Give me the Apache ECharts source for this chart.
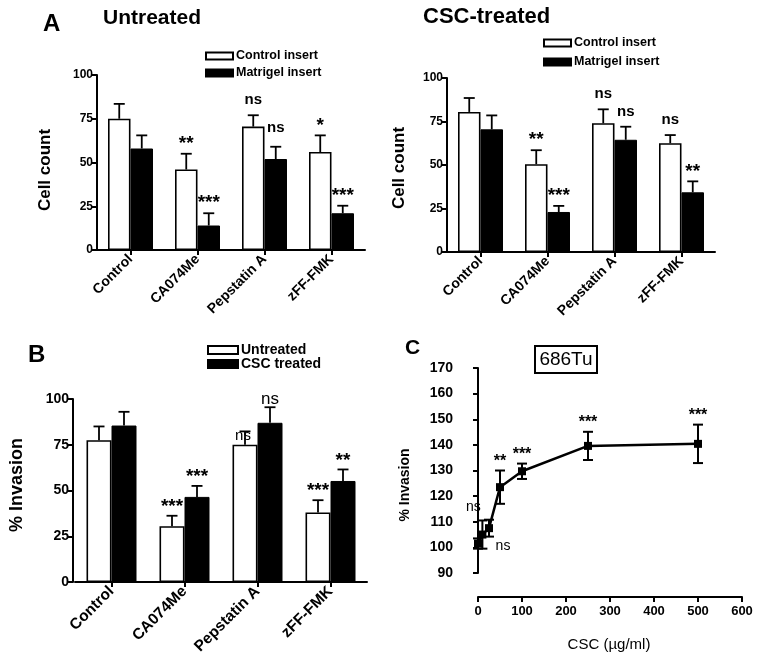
<!DOCTYPE html>
<html><head><meta charset="utf-8">
<script src="https://cdn.jsdelivr.net/npm/echarts@6/dist/echarts.min.js"></script>
<style>html,body{margin:0;padding:0;background:#fff}#c{width:762px;height:669px}</style>
</head><body><div id="c"></div>
<script>
// ---------- DATA ----------
const categories = ['Control', 'CA074Me', 'Pepstatin A', 'zFF-FMK'];
const countTicks = [0, 25, 50, 75, 100];
const invasionTicks = [0, 25, 50, 75, 100];
const cYTicks = [90, 100, 110, 120, 130, 140, 150, 160, 170];
const cXTicks = [0, 100, 200, 300, 400, 500, 600];

// A - Untreated
const untrControlInsert = [75, 46, 70.5, 56];
const untrControlInsertSem = [8.5, 9, 6.5, 9.5];
const untrControlInsertSig = ['', '**', 'ns', '*'];
const untrMatrigelInsert = [58, 14, 52, 21];
const untrMatrigelInsertSem = [7.5, 7, 7, 4.3];
const untrMatrigelInsertSig = ['', '***', 'ns', '***'];
// A - CSC-treated
const cscControlInsert = [80.5, 50.5, 74, 62.5];
const cscControlInsertSem = [8, 8, 8, 4.7];
const cscControlInsertSig = ['', '**', 'ns', 'ns'];
const cscMatrigelInsert = [70.5, 23, 64.5, 34.3];
const cscMatrigelInsertSem = [8, 3.5, 7.5, 6.3];
const cscMatrigelInsertSig = ['', '***', 'ns', '**'];
// B - % invasion
const bUntreated = [77.5, 30.5, 75, 38];
const bUntreatedSem = [7.5, 5.7, 7.3, 6.7];
const bUntreatedSig = ['', '***', 'ns', '***'];
const bCscTreated = [85.5, 46.5, 87, 55.2];
const bCscTreatedSem = [7.5, 6, 8.5, 6.3];
const bCscTreatedSig = ['', '***', 'ns', '**'];
// C - 686Tu dose response
const cDose = [0, 10, 25, 50, 100, 250, 500];
const cInvasion = [101.5, 105, 107.5, 123.5, 129.7, 139.6, 140.4];
const cInvasionSem = [2, 5.5, 3.3, 6.5, 3, 5.5, 7.5];
const cSig = ['', 'ns', 'ns', '**', '***', '***', '***'];

// ---------- LAYOUT / STYLE ----------
const F = '"Liberation Sans", Arial, Helvetica, sans-serif';
const K = '#000';

function yAxisCfg(gi, ticks, fs, offset) {
  return {
    type: 'value', gridIndex: gi, min: ticks[0], max: ticks[ticks.length - 1],
    interval: ticks[1] - ticks[0], offset: offset || 0,
    axisLine: { show: true, lineStyle: { color: K, width: 2 } },
    axisTick: { show: true, length: 5, lineStyle: { color: K, width: 2 } },
    splitLine: { show: false },
    axisLabel: { color: K, fontFamily: F, fontWeight: 'bold', fontSize: fs, margin: 4 }
  };
}
function catAxisCfg(gi, fs) {
  return {
    type: 'category', gridIndex: gi, data: categories,
    axisLine: { show: true, lineStyle: { color: K, width: 2 } },
    axisTick: { show: true, alignWithLabel: true, length: 5, lineStyle: { color: K, width: 2 } },
    axisLabel: { color: K, fontFamily: F, fontWeight: 'bold', fontSize: fs, rotate: 45, margin: 7, interval: 0 },
    splitLine: { show: false }
  };
}
function barSeries(gi, name, data, white, barW) {
  return {
    type: 'bar', name: name, xAxisIndex: gi, yAxisIndex: gi, data: data,
    barWidth: barW, barGap: '0%', z: 2,
    itemStyle: white ? { color: '#fff', borderColor: K, borderWidth: 1.6 } : { color: K, borderColor: K, borderWidth: 1 }
  };
}
function barErr(gi, vals, sems, sigs, side, barW, opt) {
  return {
    type: 'custom', xAxisIndex: gi, yAxisIndex: gi, z: 5, silent: true,
    data: vals.map((v, i) => [i, v, v + sems[i]]),
    renderItem: function (params, api) {
      const i = api.value(0), v = api.value(1), t = api.value(2);
      const b = api.coord([i, v]), tp = api.coord([i, t]);
      const x = b[0] + side * barW / 2;
      const ch = [
        { type: 'line', shape: { x1: x, y1: b[1], x2: x, y2: tp[1] }, style: { stroke: K, lineWidth: 1.8 } },
        { type: 'line', shape: { x1: x - 5.5, y1: tp[1], x2: x + 5.5, y2: tp[1] }, style: { stroke: K, lineWidth: 1.8 } }
      ];
      const s = sigs[params.dataIndex];
      if (s) {
        const star = s[0] === '*';
        const nd = (opt.nudge && opt.nudge[params.dataIndex]) || [0, 0];
        ch.push({
          type: 'text', x: x + nd[0], y: tp[1] - opt.gap + (star ? 5 : 0) + nd[1],
          style: { text: s, align: 'center', verticalAlign: 'middle', fill: K,
            font: star ? opt.starFont : opt.nsFont }
        });
      }
      return { type: 'group', children: ch };
    }
  };
}

const grids = [
  { left: 97, top: 75, width: 268, height: 175 },
  { left: 447, top: 78, width: 268, height: 174 },
  { left: 75, top: 399, width: 292, height: 183 },
  { left: 478, top: 368, width: 264, height: 205 }
].map(g => Object.assign({ containLabel: false, outerBoundsMode: 'none' }, g));

const aBW = 22.5, bBW = 25;
const aStar = 'bold 19px ' + F;
const aNs = 'bold 15px ' + F;
const series = [
  barSeries(0, 'Control insert', untrControlInsert, true, aBW),
  barSeries(0, 'Matrigel insert', untrMatrigelInsert, false, aBW),
  barSeries(1, 'Control insert', cscControlInsert, true, aBW),
  barSeries(1, 'Matrigel insert', cscMatrigelInsert, false, aBW),
  barSeries(2, 'Untreated', bUntreated, true, bBW),
  barSeries(2, 'CSC treated', bCscTreated, false, bBW),
  barErr(0, untrControlInsert, untrControlInsertSem, untrControlInsertSig, -1, aBW, { gap: 15, starFont: aStar, nsFont: aNs }),
  barErr(0, untrMatrigelInsert, untrMatrigelInsertSem, untrMatrigelInsertSig, 1, aBW, { gap: 15, starFont: aStar, nsFont: aNs, nudge: [null, null, [0, -4]] }),
  barErr(1, cscControlInsert, cscControlInsertSem, cscControlInsertSig, -1, aBW, { gap: 15, starFont: aStar, nsFont: aNs }),
  barErr(1, cscMatrigelInsert, cscMatrigelInsertSem, cscMatrigelInsertSig, 1, aBW, { gap: 15, starFont: aStar, nsFont: aNs }),
  barErr(2, bUntreated, bUntreatedSem, bUntreatedSig, -1, bBW, { gap: 14, starFont: 'bold 19px ' + F, nsFont: '15px ' + F, nudge: [null, null, [-2, 18]] }),
  barErr(2, bCscTreated, bCscTreatedSem, bCscTreatedSig, 1, bBW, { gap: 14, starFont: 'bold 19px ' + F, nsFont: '17px ' + F, nudge: [null, null, [0, 6]] }),
  {
    type: 'line', xAxisIndex: 3, yAxisIndex: 3, z: 4,
    data: cDose.map((d, i) => [d, cInvasion[i]]),
    symbol: 'rect', symbolSize: 8, itemStyle: { color: K },
    lineStyle: { color: K, width: 2.5 }
  },
  {
    type: 'custom', xAxisIndex: 3, yAxisIndex: 3, z: 5, silent: true,
    data: cDose.map((d, i) => [d, cInvasion[i] - cInvasionSem[i], cInvasion[i] + cInvasionSem[i]]),
    renderItem: function (params, api) {
      const lo = api.coord([api.value(0), api.value(1)]);
      const hi = api.coord([api.value(0), api.value(2)]);
      const x = lo[0];
      const ch = [
        { type: 'line', shape: { x1: x, y1: lo[1], x2: x, y2: hi[1] }, style: { stroke: K, lineWidth: 2 } },
        { type: 'line', shape: { x1: x - 5, y1: lo[1], x2: x + 5, y2: lo[1] }, style: { stroke: K, lineWidth: 2 } },
        { type: 'line', shape: { x1: x - 5, y1: hi[1], x2: x + 5, y2: hi[1] }, style: { stroke: K, lineWidth: 2 } }
      ];
      const s = cSig[params.dataIndex];
      if (s) {
        const star = s[0] === '*';
        const nudges = { 1: [-9, 0], 2: [14, 39] };
        const nd = nudges[params.dataIndex] || [0, 0];
        ch.push({ type: 'text', x: x + nd[0], y: hi[1] - 13 + (star ? 4 : 0) + nd[1],
          style: { text: s, align: 'center', verticalAlign: 'middle', fill: K,
            font: star ? 'bold 16px ' + F : '14px ' + F } });
      }
      return { type: 'group', children: ch };
    }
  }
];

function legendCfg(left, top, names, gap, fs, iw, ih) {
  return {
    left: left, top: top, orient: 'vertical', padding: 0, itemGap: gap,
    itemWidth: iw, itemHeight: ih, icon: 'rect', selectedMode: false,
    data: names,
    textStyle: { color: K, fontFamily: F, fontWeight: 'bold', fontSize: fs, lineHeight: 14, padding: [0, 0, 0, -2] }
  };
}

function gText(x, y, text, font, opts) {
  return Object.assign({ type: 'text', x: x, y: y, silent: true,
    style: Object.assign({ text: text, font: font, fill: K, align: 'left', verticalAlign: 'middle' }, (opts && opts.style) || {}) },
    (opts && opts.el) || {});
}
const rotY = { style: { align: 'center' }, el: { rotation: Math.PI / 2 } };

const option = {
  animation: false,
  backgroundColor: '#fff',
  grid: grids,
  xAxis: [
    catAxisCfg(0, 14), catAxisCfg(1, 14), catAxisCfg(2, 15.5),
    {
      type: 'value', gridIndex: 3, min: cXTicks[0], max: cXTicks[cXTicks.length - 1],
      interval: cXTicks[1] - cXTicks[0], offset: 24,
      axisLine: { show: true, onZero: false, lineStyle: { color: K, width: 2 } },
      axisTick: { show: true, length: 5, lineStyle: { color: K, width: 2 } },
      splitLine: { show: false },
      axisLabel: { color: K, fontFamily: F, fontWeight: 'bold', fontSize: 13, margin: 8 }
    }
  ],
  yAxis: [
    yAxisCfg(0, countTicks, 12), yAxisCfg(1, countTicks, 12), yAxisCfg(2, invasionTicks, 14, 2),
    yAxisCfg(3, cYTicks, 14, 21)
  ],
  legend: [
    legendCfg(205, 49, ['Control insert', 'Matrigel insert'], 3, 12.5, 27, 7),
    legendCfg(543, 36, ['Control insert', 'Matrigel insert'], 5, 12.5, 27, 7),
    legendCfg(207, 343, ['Untreated', 'CSC treated'], 0, 14, 30, 8)
  ],
  graphic: [
    gText(43, 24, 'A', 'bold 24px ' + F),
    gText(103, 18, 'Untreated', 'bold 21px ' + F),
    gText(423, 17, 'CSC-treated', 'bold 22px ' + F),
    gText(28, 355, 'B', 'bold 24px ' + F),
    gText(405, 348, 'C', 'bold 21px ' + F),
    gText(45, 170, 'Cell count', 'bold 17px ' + F, rotY),
    gText(399, 168, 'Cell count', 'bold 17px ' + F, rotY),
    gText(17, 485, '% Invasion', 'bold 18px ' + F, rotY),
    gText(405, 485, '% Invasion', 'bold 14px ' + F, rotY),
    { type: 'rect', shape: { x: 535, y: 346, width: 62, height: 27 }, style: { fill: '#fff', stroke: K, lineWidth: 2 }, silent: true },
    gText(566, 360, '686Tu', '19px ' + F, { style: { align: 'center' } }),
    gText(609, 645, 'CSC (\u00b5g/ml)', '15px ' + F, { style: { align: 'center' } })
  ],
  series: series
};
const chart = echarts.init(document.getElementById('c'), null, { renderer: 'canvas' });
chart.setOption(option);
</script>
</body></html>
